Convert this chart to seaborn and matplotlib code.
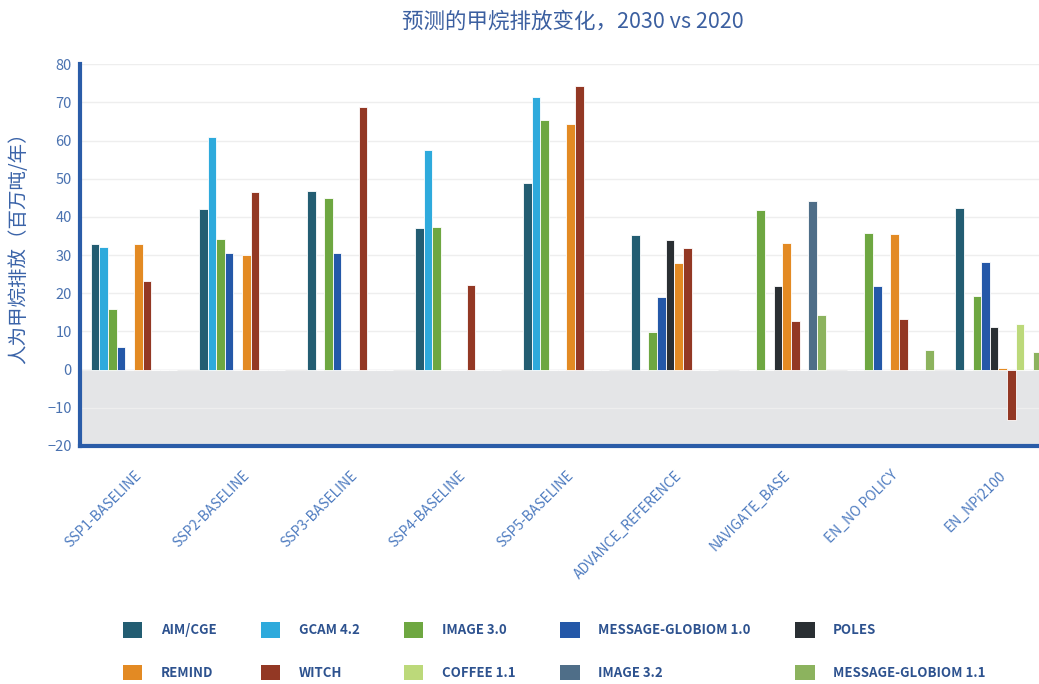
import numpy as np
import pandas as pd
import matplotlib
matplotlib.use('Agg')
import matplotlib.pyplot as plt
import seaborn as sns
from matplotlib.patches import Patch

# 情景（横轴分组）
scenarios = ['SSP1-BASELINE', 'SSP2-BASELINE', 'SSP3-BASELINE', 'SSP4-BASELINE',
             'SSP5-BASELINE', 'ADVANCE_REFERENCE', 'NAVIGATE_BASE', 'EN_NO POLICY',
             'EN_NPi2100']

# 模型
models = ['AIM/CGE', 'GCAM 4.2', 'IMAGE 3.0', 'MESSAGE-GLOBIOM 1.0', 'POLES',
          'REMIND', 'WITCH', 'COFFEE 1.1', 'IMAGE 3.2', 'MESSAGE-GLOBIOM 1.1']

colors = ['#235d72', '#2eaadc', '#6ea741', '#2458a8', '#2a2f33',
          '#e38a23', '#933824', '#bcd97a', '#4f6e88', '#8cb35e']

# 每个模型在各情景下的变化值（百万吨/年）
aim_cge = [33.0, 42.0, 46.8, 37.0, 49.0, 35.3, 0.0, 0.0, 42.4]
gcam_42 = [32.1, 61.0, 0.0, 57.5, 71.4, 0.0, 0.0, 0.0, 0.0]
image_30 = [16.0, 34.2, 45.0, 37.5, 65.4, 9.8, 41.8, 35.9, 19.2]
message_10 = [6.0, 30.6, 30.6, 0.0, 0.0, 19.0, 0.0, 21.8, 28.3]
poles = [0.0, 0.0, 0.0, 0.0, 0.0, 33.9, 21.9, 0.0, 11.2]
remind = [33.0, 30.0, 0.0, 0.0, 64.4, 27.9, 33.3, 35.5, 0.4]
witch = [23.2, 46.6, 68.8, 22.3, 74.2, 31.8, 12.8, 13.3, -13.3]
coffee_11 = [0.0, 0.0, 0.0, 0.0, 0.0, 0.0, 0.0, 0.0, 11.9]
image_32 = [0.0, 0.0, 0.0, 0.0, 0.0, 0.0, 44.1, 0.0, 0.0]
message_11 = [0.0, 0.0, 0.0, 0.0, 0.0, 0.0, 14.3, 5.2, 4.5]

series = [aim_cge, gcam_42, image_30, message_10, poles,
          remind, witch, coffee_11, image_32, message_11]

rows = []
for m, vals in zip(models, series):
    for s, v in zip(scenarios, vals):
        rows.append({'scenario': s, 'model': m, 'value': v})
df = pd.DataFrame(rows)

sns.set_style('white')
plt.rcParams['font.family'] = ['Noto Sans CJK SC', 'DejaVu Sans']

fig = plt.figure(figsize=(10.39, 6.84), dpi=100)
ax = fig.add_axes([0.077, 0.348, 0.923, 0.558])

ax.axhspan(-20, 0, color='#e4e5e7', zorder=0)
for y in range(-10, 81, 10):
    ax.axhline(y, color='#eeeeee', lw=1, zorder=0.5)

sns.barplot(data=df, x='scenario', y='value', hue='model', order=scenarios,
            hue_order=models, palette=colors, width=0.8, edgecolor='white',
            linewidth=0.6, saturation=1, legend=False, ax=ax, zorder=2)

ax.set_ylim(-20, 80)
ax.set_xlim(-0.5, 8.375)
ax.set_yticks(range(-20, 81, 10))
ax.set_xlabel('')
ax.set_ylabel('人为甲烷排放（百万吨/年）', color='#3a63a8', fontsize=14)
ax.yaxis.set_label_coords(-0.053, 0.53)

for side in ['top', 'right']:
    ax.spines[side].set_visible(False)
for side in ['left', 'bottom']:
    ax.spines[side].set_color('#2a5ca8')
    ax.spines[side].set_linewidth(3)

ax.tick_params(axis='y', length=0, labelsize=10.5, labelcolor='#4a72b0', pad=6)
ax.tick_params(axis='x', length=0, labelsize=10, labelcolor='#4f7cc0', pad=16)
plt.setp(ax.get_xticklabels(), rotation=45, ha='right', rotation_mode='anchor')

fig.text(0.551, 0.968, '预测的甲烷排放变化，2030 vs 2020', ha='center', va='center',
         fontsize=15.5, color='#3b5fa0')

# 图例按行排列（matplotlib 按列填充，所以重新排序）
order = [0, 5, 1, 6, 2, 7, 3, 8, 4, 9]
handles = [Patch(facecolor=colors[i], edgecolor='none') for i in order]
labels = [models[i] for i in order]
leg = fig.legend(handles, labels, ncol=5, loc='upper left',
                 bbox_to_anchor=(0.107, 0.108), frameon=False,
                 handlelength=1.45, handleheight=1.45, handletextpad=1.4,
                 columnspacing=3.4, labelspacing=2.05,
                 prop={'size': 9.5, 'weight': 'bold'})
for t in leg.get_texts():
    t.set_color('#2d528f')

fig.savefig('out.png', dpi=100)
